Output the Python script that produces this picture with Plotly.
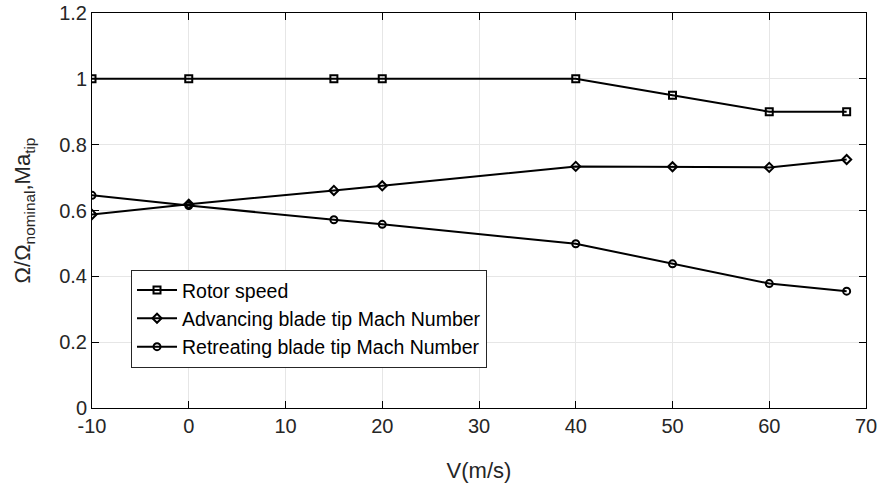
import plotly.graph_objects as go

v = [-10, 0, 15, 20, 40, 50, 60, 68]
rotor_speed = [1.0, 1.0, 1.0, 1.0, 1.0, 0.95, 0.90, 0.90]
advancing_mach = [0.588, 0.619, 0.661, 0.675, 0.734, 0.733, 0.731, 0.755]
retreating_mach = [0.646, 0.615, 0.572, 0.558, 0.499, 0.438, 0.378, 0.355]

x_ticks = [-10, 0, 10, 20, 30, 40, 50, 60, 70]
y_ticks = [0, 0.2, 0.4, 0.6, 0.8, 1.0, 1.2]
y_ticklabels = ["0", "0.2", "0.4", "0.6", "0.8", "1", "1.2"]

series = [
    ("Rotor speed", rotor_speed, "square-open"),
    ("Advancing blade tip Mach Number", advancing_mach, "diamond-open"),
    ("Retreating blade tip Mach Number", retreating_mach, "circle-open"),
]

fig = go.Figure()
for name, vals, sym in series:
    fig.add_trace(go.Scatter(
        x=v, y=vals, name=name, mode="lines+markers",
        line=dict(color="black", width=2),
        marker=dict(symbol=sym, size=7, color="black", line=dict(width=2, color="black")),
    ))

font = "Liberation Sans, Arial, sans-serif"
fig.update_layout(
    width=883, height=484,
    margin=dict(l=92, r=17, t=13, b=76),
    plot_bgcolor="white", paper_bgcolor="white",
    font=dict(family=font, size=20, color="#262626"),
    showlegend=True,
    legend=dict(
        x=0.0504, y=0.35, xanchor="left", yanchor="top",
        bgcolor="white", bordercolor="#262626", borderwidth=1,
        font=dict(size=19.5, color="black"),
        tracegroupgap=0, itemwidth=40,
    ),
)
fig.update_xaxes(
    range=[-10, 70], tickvals=x_ticks,
    ticktext=[str(t) for t in x_ticks],
    showgrid=True, gridcolor="#e6e6e6", gridwidth=1, automargin=False,
    showline=True, linecolor="black", linewidth=1, mirror="allticks",
    ticks="inside", ticklen=7, tickcolor="black", zeroline=False,
    title=dict(text="V(m/s)", font=dict(size=22), standoff=26),
)
fig.update_yaxes(
    range=[0, 1.2], tickvals=y_ticks, ticktext=y_ticklabels,
    showgrid=True, gridcolor="#e6e6e6", gridwidth=1, automargin=False,
    showline=True, linecolor="black", linewidth=1, mirror="allticks",
    ticks="inside", ticklen=7, tickcolor="black", zeroline=False,
    title=dict(text="Ω/Ω<sub>nominal</sub>,Ma<sub>tip</sub>", font=dict(size=22), standoff=22),
)

fig.write_html(
    "out.html",
    config={"displayModeBar": False},
    post_script="document.body.style.margin='0';document.body.style.overflow='hidden';",
)
